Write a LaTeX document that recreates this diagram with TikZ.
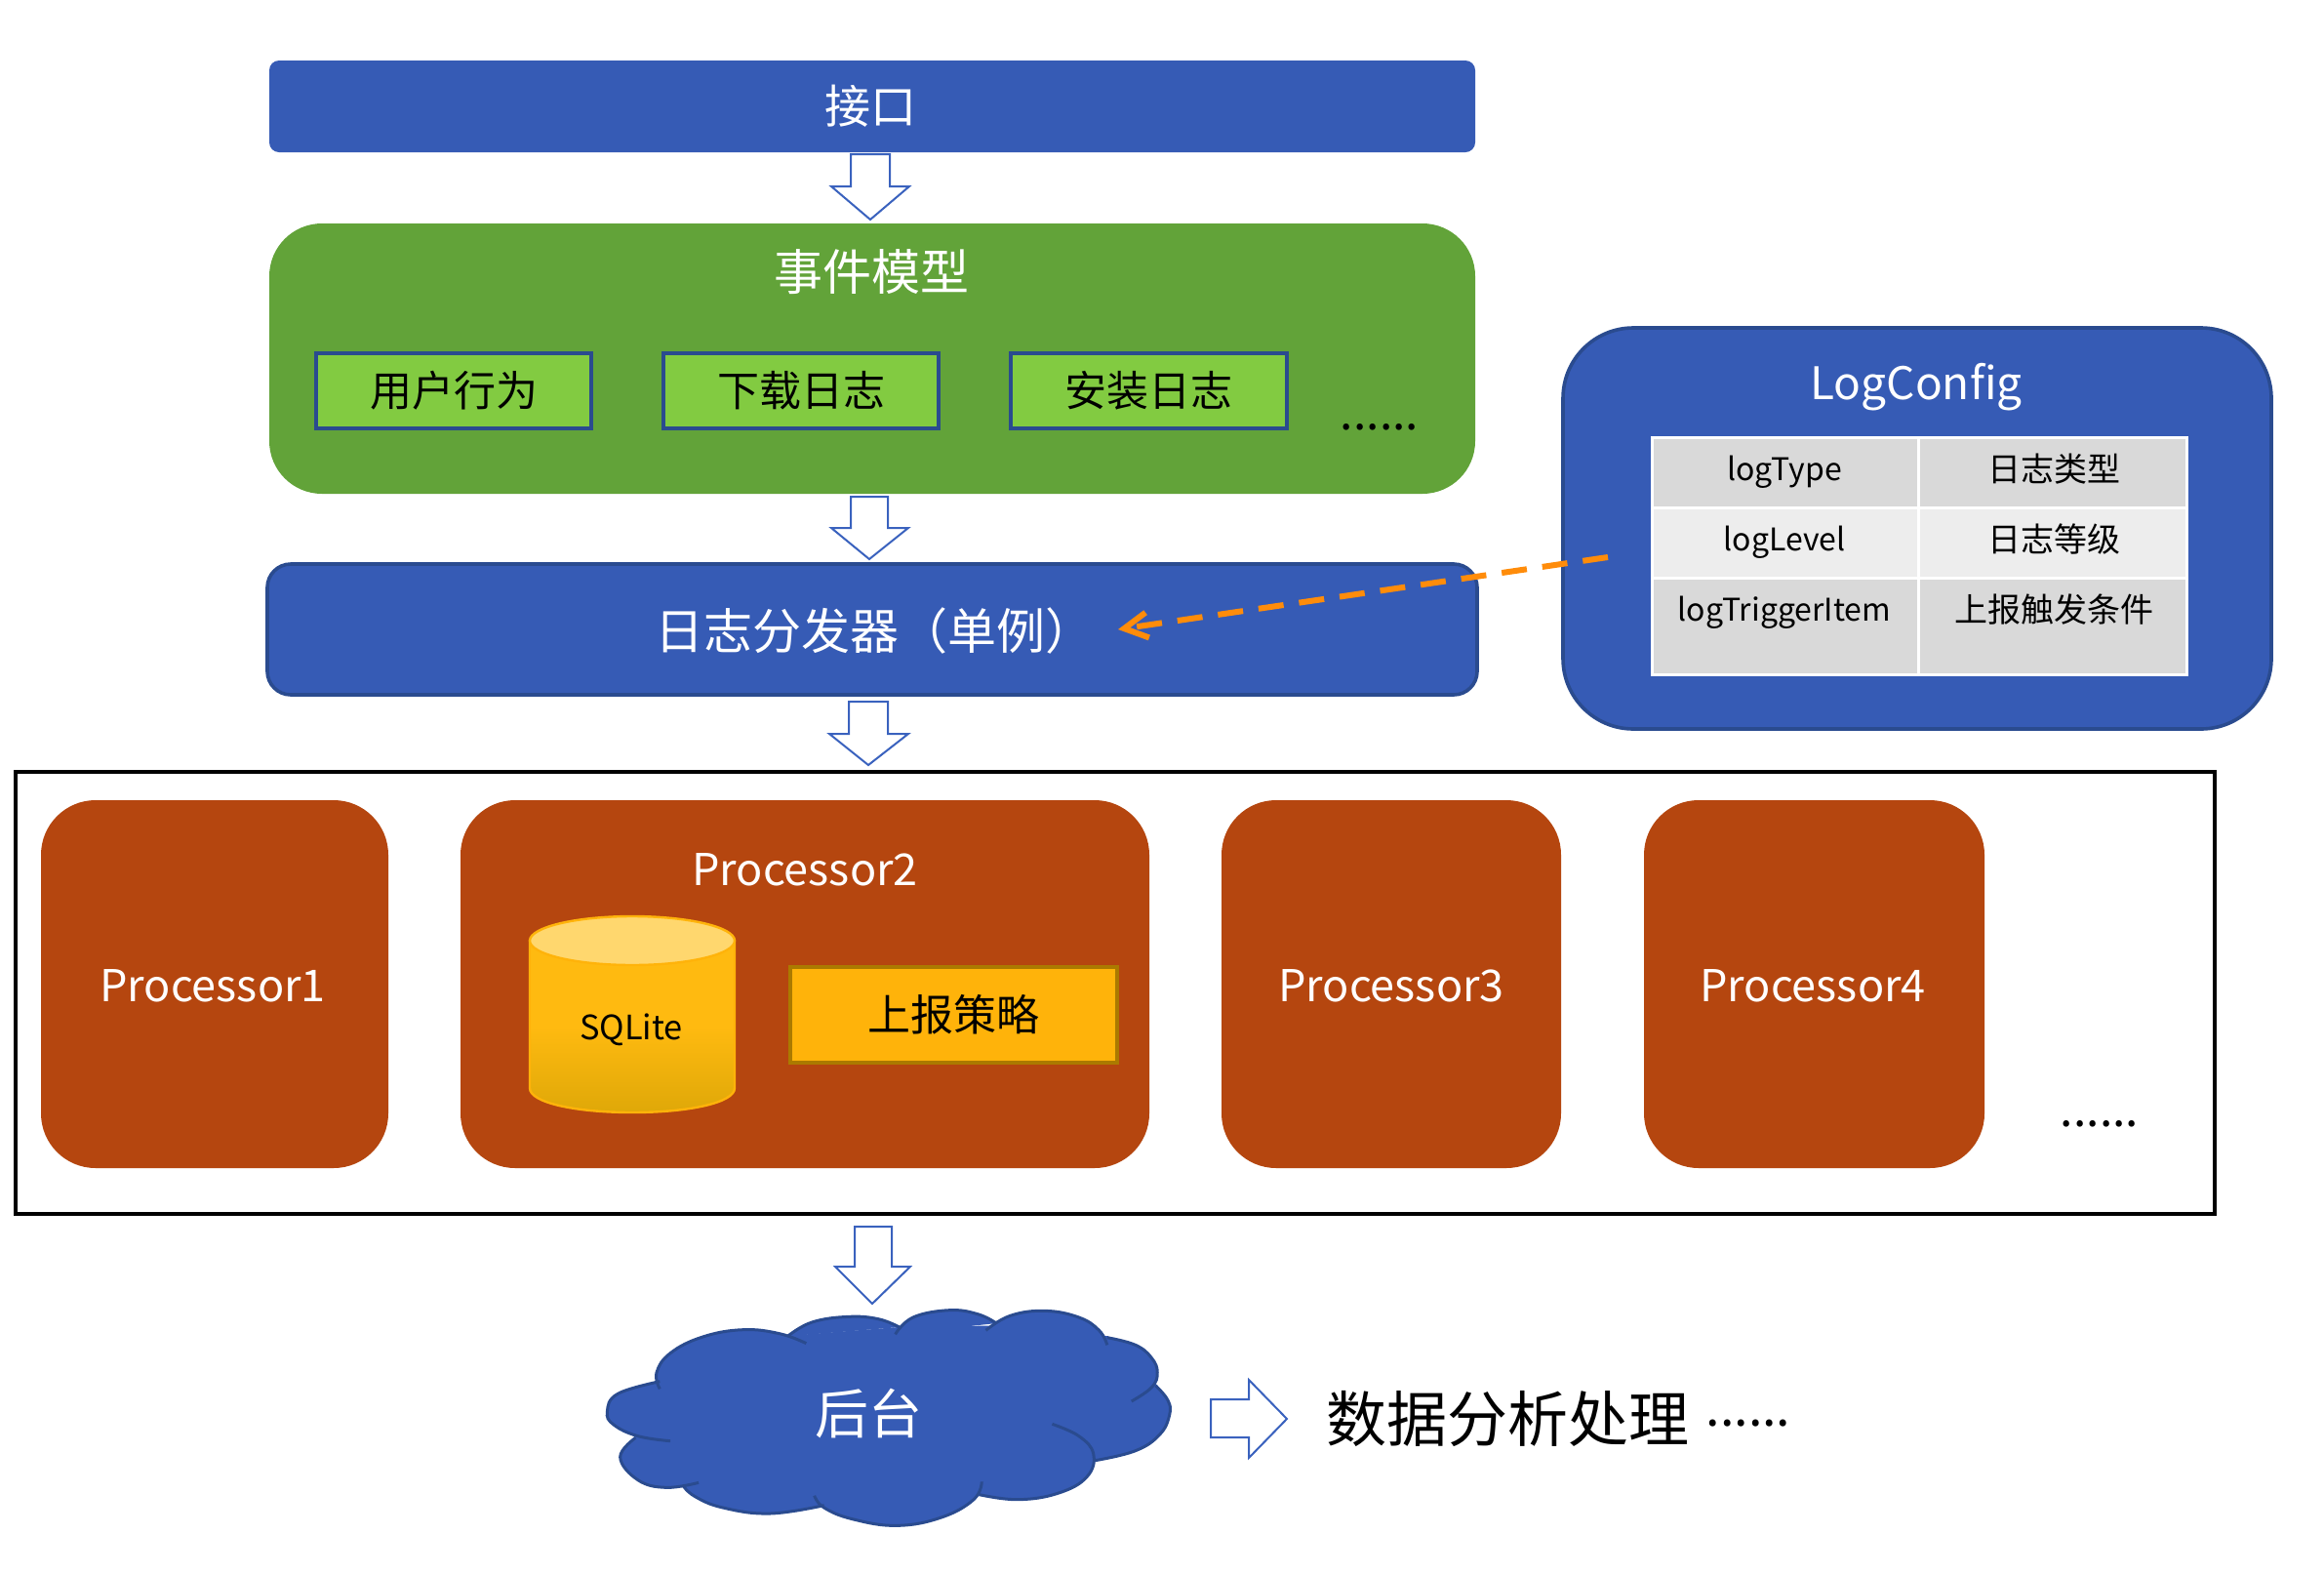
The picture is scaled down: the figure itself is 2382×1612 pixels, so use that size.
\documentclass[tikz,border=0pt]{standalone}
\usepackage{fontspec}
\setmainfont{Noto Sans CJK SC}
\usetikzlibrary{arrows.meta}
\definecolor{blu}{HTML}{365BB5}
\definecolor{dkblu}{HTML}{2A4B8F}
\definecolor{arrblu}{HTML}{3A62BE}
\definecolor{grn}{HTML}{62A339}
\definecolor{lgrn}{HTML}{82CB41}
\definecolor{brn}{HTML}{B5460F}
\definecolor{gld}{HTML}{FFB30A}
\definecolor{gldb}{HTML}{AB7A00}
\definecolor{org}{HTML}{FF8C0A}
\definecolor{cella}{HTML}{D9D9D9}
\definecolor{cellb}{HTML}{EDEDED}
\definecolor{cyltop}{HTML}{FFBA10}
\definecolor{cylbot}{HTML}{DFA808}
\definecolor{cyllid}{HTML}{FFD76E}
\newcommand\fs[1]{\fontsize{#1}{#1}\selectfont}
\newcommand\bx[7]{\node[#6,minimum width={(#4-#2)*0.5pt},minimum height={(#5-#3)*0.5pt},inner sep=0pt,outer sep=0pt] (#1) at ({(#2+#4)/2},{(#3+#5)/2}) {#7};}
\newcommand\darr[8]{\draw[blockarr] (#2,#6) -- (#3,#6) -- (#3,#7) -- (#5,#7) -- (#1,#8) -- (#4,#7) -- (#2,#7) -- cycle;}
\newcommand\lobes[1]{%
  #1{(92,520)(88,470)(105,410)(145,360)(195,338)(240,350)(273,380)}%
  #1{(250,358)(280,315)(325,298)(362,305)(388,330)}%
  #1{(383,352)(405,300)(450,278)(485,290)(508,318)}%
  #1{(495,340)(525,295)(568,280)(610,300)(635,340)(645,385)}%
  #1{(645,362)(680,385)(700,425)(707,470)(700,515)(675,558)}%
  #1{(705,510)(720,555)(722,600)(710,660)(680,710)(630,740)}%
  #1{(577,628)(610,665)(628,720)(620,790)(585,840)(535,860)(487,845)}%
  #1{(490,805)(480,860)(440,915)(385,940)(330,920)(295,885)(283,848)}%
  #1{(295,878)(228,903)(170,885)(135,850)(120,815)}%
  #1{(140,808)(100,823)(65,800)(43,730)(62,670)}%
  #1{(105,680)(65,665)(35,630)(27,590)(40,535)(92,497)}}
\newcommand\lobefill[1]{\fill[blu] plot[smooth,tension=0.7] coordinates {#1};}
\newcommand\lobedraw[1]{\draw[dkblu,line width=1.5pt] plot[smooth,tension=0.7] coordinates {#1};}
\tikzset{
  blockarr/.style={draw=arrblu,fill=white,line width=1pt,line join=miter},
  topbar/.style={fill=blu,rounded corners=5pt},
  greenpanel/.style={fill=grn,rounded corners=27pt},
  inbox/.style={fill=lgrn,draw=dkblu,line width=1.8pt},
  dispatch/.style={fill=blu,draw=dkblu,line width=1.8pt,rounded corners=12pt},
  confpanel/.style={fill=blu,draw=dkblu,line width=1.8pt,rounded corners=36pt},
  proc/.style={fill=brn,rounded corners=28pt},
  cella/.style={fill=cella,draw=white,line width=1.5pt},
  cellb/.style={fill=cellb,draw=white,line width=1.5pt},
  frame/.style={draw=black,line width=1.7pt,fill=white},
  strat/.style={fill=gld,draw=gldb,line width=2pt},
  wt/.style={text=white,inner sep=0pt},
  bk/.style={text=black,inner sep=0pt},
}
\begin{document}
\begin{tikzpicture}[x=0.5pt,y=-0.5pt]
\useasboundingbox (0,0) rectangle (2382,1612);
\bx{api}{276}{62}{1512}{156}{topbar}{}
\node[wt,font=\fs{23.5}] (apit) at (892,109) {接口};
\darr{892}{872}{912}{852}{932}{158}{191}{225}
\bx{event}{276}{229}{1512}{506}{greenpanel}{}
\node[wt,font=\fs{25}] (eventt) at (893,279) {事件模型};
\bx{b1}{324}{362}{606}{439}{inbox,font=\fs{21.5}}{用户行为}
\bx{b2}{680}{362}{962}{439}{inbox,font=\fs{21.5}}{下载日志}
\bx{b3}{1036}{362}{1319}{439}{inbox,font=\fs{21.5}}{安装日志}
\node[bk,font=\fs{24},anchor=base] (dots1) at (1414,440) {......};
\darr{891}{872}{910}{852}{931}{509}{541}{573}
\bx{disp}{274}{578}{1514}{712}{dispatch}{}
\node[wt,font=\fs{25}] (dispt) at (896,646) {日志分发器（单例）};
\darr{890}{870}{910}{850}{931}{719}{752}{784}
\bx{conf}{1602}{336}{2328}{747}{confpanel}{}
\node[wt,font=\fs{23}] (conft) at (1964,397) {LogConfig};
\bx{c11}{1693}{448}{1966}{520}{cella}{}
\bx{c12}{1966}{448}{2241}{520}{cella}{}
\bx{c21}{1693}{520}{1966}{592}{cellb}{}
\bx{c22}{1966}{520}{2241}{592}{cellb}{}
\bx{c31}{1693}{592}{1966}{691}{cella}{}
\bx{c32}{1966}{592}{2241}{691}{cella}{}
\node[bk,font=\fs{16}] (t11) at (1829,484) {logType};
\node[bk,font=\fs{17}] (t12) at (2105,481) {日志类型};
\node[bk,font=\fs{16}] (t21) at (1829,556) {logLevel};
\node[bk,font=\fs{17}] (t22) at (2105,553) {日志等级};
\node[bk,font=\fs{16}] (t31) at (1829,628) {logTriggerItem};
\node[bk,font=\fs{17}] (t32) at (2105,625) {上报触发条件};
\coordinate (os) at (1648,571);
\coordinate (oe) at (1146,645);
\draw[org,line width=3pt,dash pattern=on 13pt off 8pt,-{Straight Barb[length=12pt,width=13pt,line width=3pt]}] (os) -- (oe);
\bx{frm}{16}{791}{2270}{1244}{frame}{}
\bx{p1}{42}{820}{398}{1197}{proc}{}
\node[wt,font=\fs{22.5}] (p1t) at (218,1010) {Processor1};
\bx{p2}{472}{820}{1178}{1197}{proc}{}
\node[wt,font=\fs{22.5}] (p2t) at (825,891) {Processor2};
\bx{p3}{1252}{820}{1600}{1197}{proc}{}
\node[wt,font=\fs{22.5}] (p3t) at (1426,1010) {Processor3};
\bx{p4}{1685}{820}{2034}{1197}{proc}{}
\node[wt,font=\fs{22.5}] (p4t) at (1858,1010) {Processor4};
\node[bk,font=\fs{24},anchor=base] (dots2) at (2152,1154) {......};
% cylinder
\path[top color=cyltop,bottom color=cylbot,middle color=cyltop,draw=gld,line width=1.2pt]
  (543,964) -- (543,1115) .. controls (543,1130) and (590,1140) .. (648,1140)
  .. controls (706,1140) and (753,1130) .. (753,1115) -- (753,964) -- cycle;
\draw[fill=cyllid,draw=gld,line width=1.2pt] (648,964) ellipse [x radius=105,y radius=25];
\node[bk,font=\fs{17.2}] (sql) at (647,1055) {SQLite};
\bx{st}{810}{991}{1145}{1089}{strat,font=\fs{22}}{上报策略}
\darr{894}{876}{914}{856}{933}{1257}{1298}{1336}
\begin{scope}[shift={(600,1250)},x=0.41459pt,y=-0.16667pt]
 \lobes\lobefill
 \filldraw[blu,line width=1.5pt] (92,497)--(255,360)--(385,335)--(500,330)--(645,362)--(705,510)--(630,740)--(487,845)--(295,878)--(125,815)--(62,670)--cycle;
 \lobes\lobedraw
\end{scope}
\node[wt,font=\fs{27.5}] (cloudt) at (890,1449) {后台};
\draw[blockarr] (1241,1434) -- (1280,1434) -- (1280,1414) -- (1319,1454) -- (1280,1494) -- (1280,1473) -- (1241,1473) -- cycle;
\node[bk,font=\fs{31}] (ana) at (1545,1454) {数据分析处理};
\node[bk,font=\fs{26},anchor=base] (dots3) at (1792,1461) {......};
\end{tikzpicture}
\end{document}
